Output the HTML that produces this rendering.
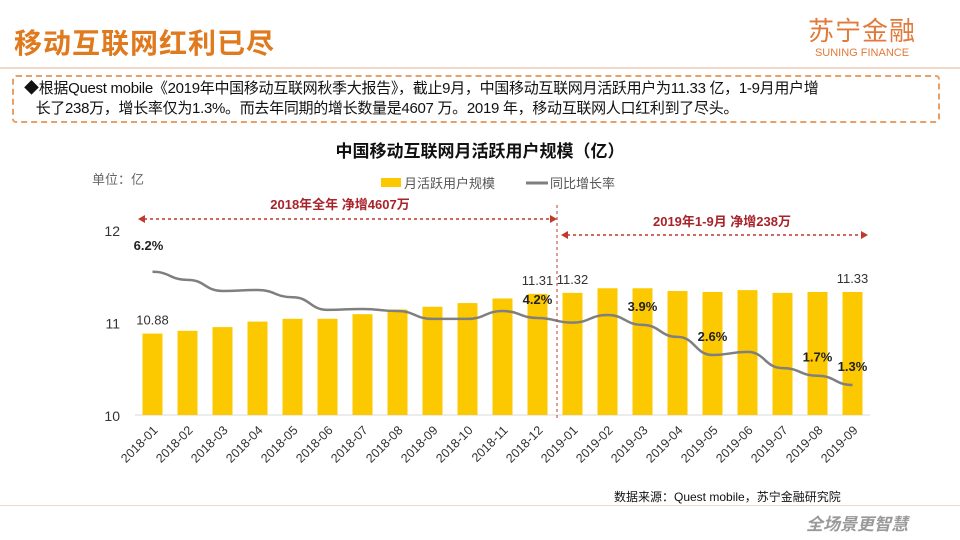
<!DOCTYPE html>
<html><head><meta charset="utf-8"><style>
body{margin:0;width:960px;height:540px;background:#fff;overflow:hidden;position:relative;font-family:"Liberation Sans","Noto Sans CJK SC",sans-serif}
.abs{position:absolute}
</style></head><body>
<div class="abs" style="left:14px;top:22px;font-size:28px;font-weight:bold;color:#e07a1e;letter-spacing:1px">移动互联网红利已尽</div>
<div class="abs" style="left:808px;top:16px;color:#e07a3a;text-align:center">
<div style="font-size:26px;line-height:30px;letter-spacing:1px">苏宁金融</div>
<div style="font-size:11px;line-height:14px">SUNING FINANCE</div></div>
<div class="abs" style="left:0;top:67px;width:960px;height:2px;background:#f0d9c8"></div>
<div class="abs" style="left:12px;top:75px;width:928px;height:48px;border:2px dashed #e9a066;border-radius:4px;box-sizing:border-box"></div>
<div class="abs" style="left:24px;top:79px;width:915px;font-size:15px;line-height:20px;color:#111;letter-spacing:-0.3px">◆根据Quest  mobile《2019年中国移动互联网秋季大报告》，截止9月，中国移动互联网月活跃用户为11.33 亿，1-9月用户增<br>&nbsp;&nbsp;&nbsp;长了238万，增长率仅为1.3%。而去年同期的增长数量是4607 万。2019 年，移动互联网人口红利到了尽头。</div>
<div class="abs" style="left:0;width:960px;top:137px;text-align:center;font-size:17px;font-weight:bold;color:#111">中国移动互联网月活跃用户规模（亿）</div>
<svg class="abs" style="left:0;top:0" width="960" height="540" id="chart"></svg>
<div class="abs" style="left:614px;top:488px;font-size:12px;color:#111">数据来源：Quest mobile，苏宁金融研究院</div>
<div class="abs" style="left:0;top:505px;width:960px;height:1px;background:#f0d9c8"></div>
<div class="abs" style="left:806px;top:510px;font-size:17px;font-weight:bold;font-style:italic;color:#999">全场景更智慧</div>
<script>
const categories=["2018-01","2018-02","2018-03","2018-04","2018-05","2018-06","2018-07","2018-08","2018-09","2018-10","2018-11","2018-12","2019-01","2019-02","2019-03","2019-04","2019-05","2019-06","2019-07","2019-08","2019-09"];
const users=[10.88,10.91,10.95,11.01,11.04,11.04,11.09,11.14,11.17,11.21,11.26,11.31,11.32,11.37,11.37,11.34,11.33,11.35,11.32,11.33,11.33];
const growth=[6.2,5.85,5.37,5.41,5.1,4.55,4.59,4.5,4.16,4.16,4.5,4.2,4.0,4.33,3.9,3.38,2.6,2.73,2.03,1.7,1.3];
const yTicks=[10,11,12];
const userLabels={0:"10.88",11:"11.31",12:"11.32",20:"11.33"};
const growthLabels={0:"6.2%",11:"4.2%",14:"3.9%",16:"2.6%",19:"1.7%",20:"1.3%"};
const NS="http://www.w3.org/2000/svg",svg=document.getElementById('chart');
const X0=135,STEP=35,Y0=415;
const xc=i=>X0+STEP*(i+0.5);
const yU=v=>Y0-(v-10)*92.5;
const yP=v=>Y0-v*23.1;
function mk(t,a,txt){const e=document.createElementNS(NS,t);for(const k in a)e.setAttribute(k,a[k]);if(txt!=null)e.textContent=txt;svg.appendChild(e);return e;}
let e;
e=mk('line',{x1:X0,y1:Y0,x2:X0+STEP*21,y2:Y0,stroke:'#d9d9d9'});


yTicks.forEach(t=>{e=mk('text',{x:120,y:yU(t)+6,'font-size':14,fill:'#333','text-anchor':'end'},t);

});
e=mk('text',{x:92,y:184,'font-size':13,fill:'#666'},'单位：亿');


users.forEach((v,i)=>{e=mk('rect',{x:xc(i)-10,y:yU(v),width:20,height:Y0-yU(v),fill:'#fcc800'});


if(userLabels[i]){e=mk('text',{x:xc(i),y:yU(v)-9,'font-size':13,fill:'#333','text-anchor':'middle'},userLabels[i]);

}
e=mk('text',{x:xc(i)+6,y:Y0+16,'font-size':12.5,fill:'#333','text-anchor':'end',transform:`rotate(-45 ${xc(i)+6} ${Y0+16})`},categories[i]);

});
let d='';growth.forEach((v,i)=>{const x=xc(i),y=yP(v);if(i===0)d='M'+x+' '+y;else{const px=xc(i-1),py=yP(growth[i-1]);d+=` C${px+STEP/2} ${py} ${x-STEP/2} ${y} ${x} ${y}`;}});
e=mk('path',{d:d,fill:'none',stroke:'#7f7f7f','stroke-width':2.5});


growth.forEach((v,i)=>{if(growthLabels[i]){const off=i===0?-22:-14;e=mk('text',{x:xc(i)+(i===0?-4:0),y:yP(v)+off,'font-size':13,'font-weight':'bold',fill:'#222','text-anchor':'middle'},growthLabels[i]);

}});
const dv=(xc(11)+xc(12))/2+2;
e=mk('line',{x1:dv,y1:205,x2:dv,y2:Y0+4,stroke:'#c0392b','stroke-dasharray':'3,3'});


function arrow(x1,x2,y,name){e=mk('line',{x1:x1+6,y1:y,x2:x2-6,y2:y,stroke:'#c0392b','stroke-width':1.5,'stroke-dasharray':'3,3'});


mk('path',{d:`M${x1} ${y} l7 -4 v8z M${x2} ${y} l-7 -4 v8z`,fill:'#c0392b'});}
arrow(138,dv,219,'range-2018-arrow');arrow(dv+4,868,235,'range-2019-arrow');
e=mk('text',{x:340,y:209,'font-size':13,'font-weight':'bold',fill:'#a8232a','text-anchor':'middle'},'2018年全年 净增4607万');


e=mk('text',{x:722,y:226,'font-size':13,'font-weight':'bold',fill:'#a8232a','text-anchor':'middle'},'2019年1-9月  净增238万');


e=mk('rect',{x:381,y:178,width:20,height:9,fill:'#fcc800'});


e=mk('text',{x:404,y:188,'font-size':13,fill:'#555'},'月活跃用户规模');


e=mk('line',{x1:526,y1:183,x2:548,y2:183,stroke:'#7f7f7f','stroke-width':3});


e=mk('text',{x:550,y:188,'font-size':13,fill:'#555'},'同比增长率');


</script>
</body></html>
